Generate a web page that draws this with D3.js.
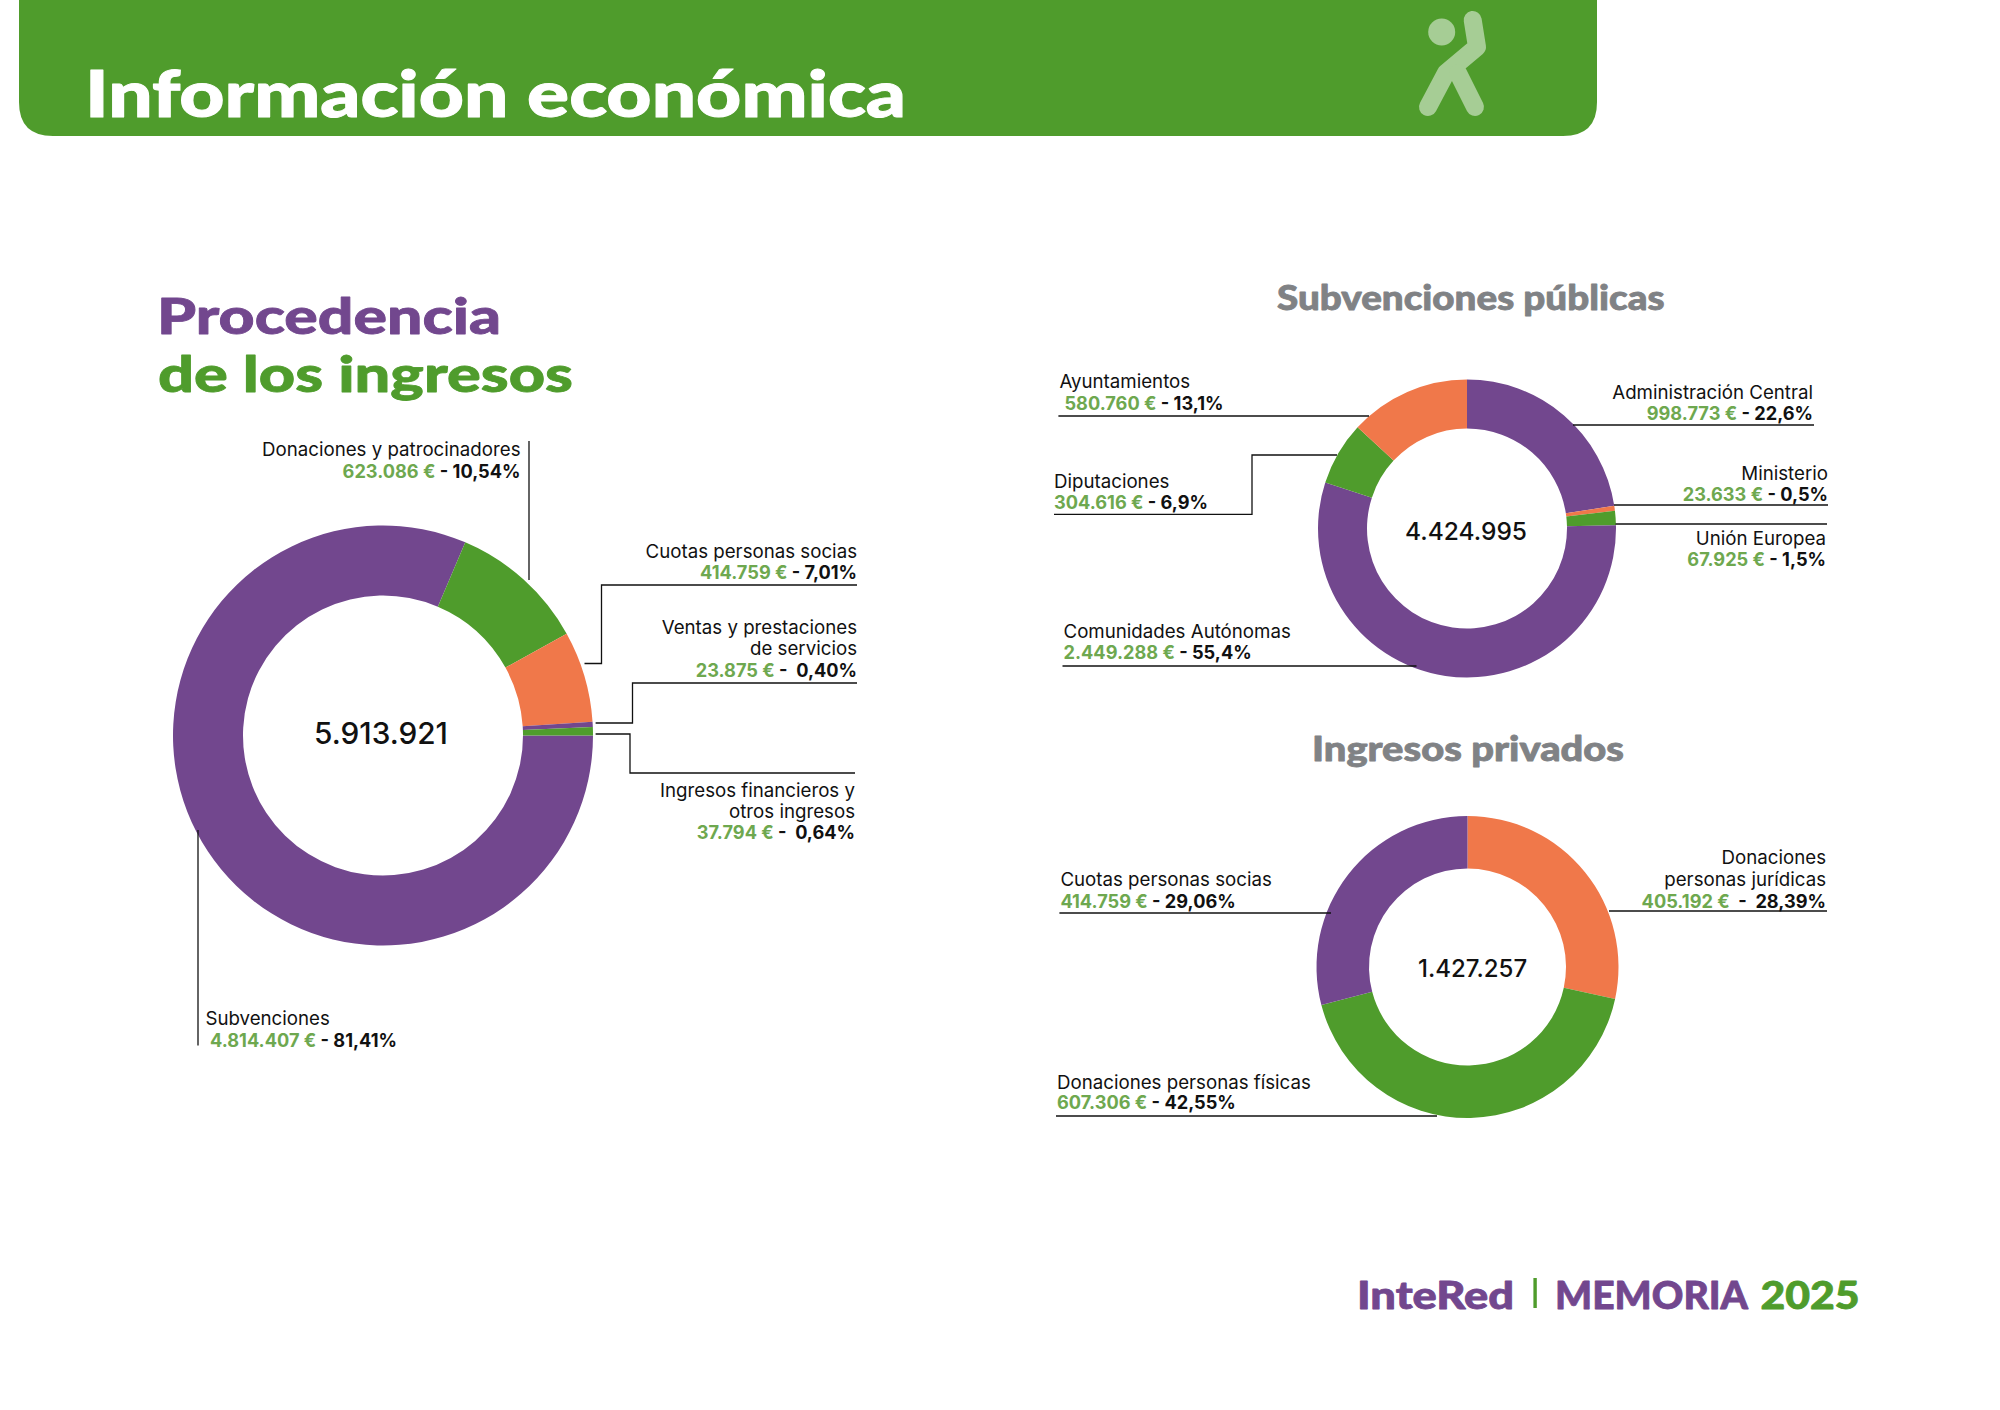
<!DOCTYPE html>
<html lang="es">
<head>
<meta charset="utf-8">
<title>Información económica</title>
<script src="https://cdn.jsdelivr.net/npm/d3@7/dist/d3.min.js"></script>
<style>
  html, body { margin: 0; background: #fff; }
  svg { display: block; }
  text { font-family: Inter, "Open Sans", sans-serif; }
  .heading { font-family: Lato, Inter, sans-serif; font-weight: 900; stroke-linejoin: round; }
</style>
</head>
<body>
<div id="chart_area"></div>
<script>
var width = 2000
var height = 1410

var purple = "#72478e"
var green = "#4f9c2c"
var orange = "#f0784a"
var lightGreen = "#6ea84f"
var grey = "#808285"

// Procedencia de los ingresos
var ingresosNames = [["Subvenciones"], ["Donaciones y patrocinadores"], ["Cuotas personas socias"], ["Ventas y prestaciones", "de servicios"], ["Ingresos financieros y", "otros ingresos"]]
var ingresosValues = [4814407, 623086, 414759, 23875, 37794]
var ingresosPercents = ["81,41%", "10,54%", "7,01%", "0,40%", "0,64%"]
var ingresosColors = [purple, green, orange, purple, green]

// Subvenciones publicas
var publicasNames = [["Administración Central"], ["Ministerio"], ["Unión Europea"], ["Comunidades Autónomas"], ["Diputaciones"], ["Ayuntamientos"]]
var publicasValues = [998773, 23633, 67925, 2449288, 304616, 580760]
var publicasPercents = ["22,6%", "0,5%", "1,5%", "55,4%", "6,9%", "13,1%"]
var publicasColors = [purple, orange, green, purple, green, orange]

// Ingresos privados
var privadosNames = [["Donaciones", "personas jurídicas"], ["Donaciones personas físicas"], ["Cuotas personas socias"]]
var privadosValues = [405192, 607306, 414759]
var privadosPercents = ["28,39%", "42,55%", "29,06%"]
var privadosColors = [orange, green, purple]

var locale = d3.formatLocale({decimal: ",", thousands: ".", grouping: [3], currency: ["", " €"]})
var fmt = locale.format(",d")

var svg = d3.select("#chart_area")
  .append("svg")
  .attr("width", width)
  .attr("height", height)

drawHeader()

// first chart starts at 3 o'clock, the other two at 12 o'clock
drawDonut({
  cx: 383, cy: 735.5, outer: 210, inner: 140, start: Math.PI / 2,
  values: ingresosValues, colors: ingresosColors, centerY: 743.5, centerX: 381, centerSize: 29.8,
  names: ingresosNames, percents: ingresosPercents, dash: [" - ", " - ", " - ", " -  ", " -  "],
  labels: [
    {x: 205.4, x2: 210, y: [1025, 1046.5], anchor: "start"},
    {x: 520.5, y: [456, 478], anchor: "end"},
    {x: 857, y: [557.5, 579], anchor: "end"},
    {x: 857, y: [634, 655, 677], anchor: "end"},
    {x: 855, y: [797, 818, 839], anchor: "end"}
  ],
  leaders: [
    [[198, 830], [198, 1045.5]],
    [[529, 441], [529, 580]],
    [[857, 585], [601.5, 585], [601.5, 663.5], [584.5, 663.5]],
    [[857, 683], [632.5, 683], [632.5, 723], [595.6, 723]],
    [[855, 773], [630, 773], [630, 734], [595.6, 734]]
  ]
})

drawDonut({
  cx: 1467, cy: 528.5, outer: 149, inner: 100, start: 0,
  values: publicasValues, colors: publicasColors, centerY: 539.5, centerX: 1466, centerSize: 24.5,
  names: publicasNames, percents: publicasPercents, dash: [" - ", " - ", " - ", " - ", " - ", " - "],
  labels: [
    {x: 1813, y: [399, 420], anchor: "end"},
    {x: 1828, y: [480, 501], anchor: "end"},
    {x: 1826, y: [545, 566], anchor: "end"},
    {x: 1063.5, y: [638, 659], anchor: "start"},
    {x: 1054, y: [488, 509], anchor: "start"},
    {x: 1059.4, x2: 1064.5, y: [388, 410], anchor: "start"}
  ],
  leaders: [
    [[1573, 425], [1814, 425]],
    [[1614, 505], [1828, 505]],
    [[1615.5, 524], [1827, 524]],
    [[1062.5, 666], [1416.5, 666]],
    [[1054, 514.3], [1252, 514.3], [1252, 455], [1337, 455]],
    [[1058.4, 416], [1369, 416]]
  ]
})

drawDonut({
  cx: 1467.5, cy: 967, outer: 151, inner: 98.5, start: 0,
  values: privadosValues, colors: privadosColors, centerY: 977, centerX: 1472.6, centerSize: 24,
  names: privadosNames, percents: privadosPercents, dash: ["  -  ", " - ", " - "],
  labels: [
    {x: 1826, y: [864, 886, 907.5], anchor: "end"},
    {x: 1057, y: [1089, 1109], anchor: "start"},
    {x: 1060.4, y: [886, 907.5], anchor: "start"}
  ],
  leaders: [
    [[1609, 911], [1827, 911]],
    [[1056, 1116], [1437, 1116]],
    [[1059.4, 913], [1331, 913]]
  ]
})

// Headings
heading("Procedencia", 157, 334, 50, purple, 344)
heading("de los ingresos", 158, 391.7, 50, green, 415)
heading("Subvenciones públicas", 1277, 310, 34, grey, 387.5)
heading("Ingresos privados", 1312, 761, 34, grey, 312)

// Footer
heading("InteRed", 1357, 1309, 38, purple, 157)
heading("MEMORIA", 1555, 1309, 38, purple, 193)
heading("2025", 1760.4, 1309, 38, green, 99)
svg.append("rect")
  .attr("x", 1533.4).attr("y", 1278)
  .attr("width", 3.4).attr("height", 30)
  .attr("fill", green)

function heading (text, x, y, size, color, textWidth) {
  svg.append("text")
    .attr("class", "heading")
    .attr("x", x)
    .attr("y", y)
    .attr("font-size", size)
    .attr("fill", color)
    .attr("stroke", color)
    .attr("stroke-width", 0.8)
    .attr("textLength", textWidth)
    .attr("lengthAdjust", "spacingAndGlyphs")
    .text(text)
}

function drawHeader () {
  var r = 34
  svg.append("path")
    .attr("d", `M19,0 H1597 V${136 - r} Q1597,136 ${1597 - r},136 H${19 + r} Q19,136 19,${136 - r} Z`)
    .attr("fill", green)

  svg.append("text")
    .attr("class", "heading")
    .attr("x", 85)
    .attr("y", 116.7)
    .attr("font-size", 64)
    .attr("fill", "#fff")
    .attr("stroke", "#fff")
    .attr("stroke-width", 1)
    .attr("textLength", 821)
    .attr("lengthAdjust", "spacingAndGlyphs")
    .text("Información económica")

  // logo figure
  var logo = svg.append("g").attr("fill", "none").attr("stroke", "#a6cd95")
    .attr("stroke-width", 18).attr("stroke-linecap", "round").attr("stroke-linejoin", "round")
  logo.append("path").attr("d", "M1472.7,20 L1477,47 L1446,73 L1428,107")
  logo.append("path").attr("d", "M1458,73 L1475,107")
  svg.append("circle").attr("cx", 1441.7).attr("cy", 32).attr("r", 13.5).attr("fill", "#a6cd95")
}

function drawDonut (opt) {
  var pie = d3.pie()
    .sort(null)
    .startAngle(opt.start)
    .endAngle(opt.start + Math.PI * 2)

  var arc = d3.arc()
    .innerRadius(opt.inner)
    .outerRadius(opt.outer)

  svg.append("g")
    .attr("transform", "translate(" + opt.cx + "," + opt.cy + ")")
    .selectAll("path")
    .data(pie(opt.values))
    .join("path")
    .attr("d", arc)
    .attr("fill", (d, i) => opt.colors[i])

  svg.append("text")
    .attr("x", opt.centerX)
    .attr("y", opt.centerY)
    .attr("text-anchor", "middle")
    .attr("font-size", opt.centerSize)
    .attr("font-weight", 500)
    .attr("fill", "#111")
    .text(fmt(d3.sum(opt.values)))

  var line = d3.line()
  opt.leaders.forEach((points) => {
    svg.append("path")
      .attr("d", line(points))
      .attr("fill", "none")
      .attr("stroke", "#111")
      .attr("stroke-width", 1.3)
  })

  opt.labels.forEach((label, i) => {
    var names = opt.names[i]
    names.forEach((name, n) => {
      svg.append("text")
        .attr("x", label.x)
        .attr("y", label.y[n])
        .attr("text-anchor", label.anchor)
        .attr("font-size", 18.7)
        .attr("fill", "#111")
        .text(name)
    })

    var row = svg.append("text")
      .attr("x", label.x2 || label.x)
      .attr("y", label.y[names.length])
      .attr("text-anchor", label.anchor)
      .attr("font-size", 18.2)
      .attr("font-weight", 700)
      .style("white-space", "pre")
    row.append("tspan").attr("fill", lightGreen).text(fmt(opt.values[i]) + " €")
    row.append("tspan").attr("fill", "#111").text(opt.dash[i] + opt.percents[i])
  })
}
</script>
</body>
</html>
